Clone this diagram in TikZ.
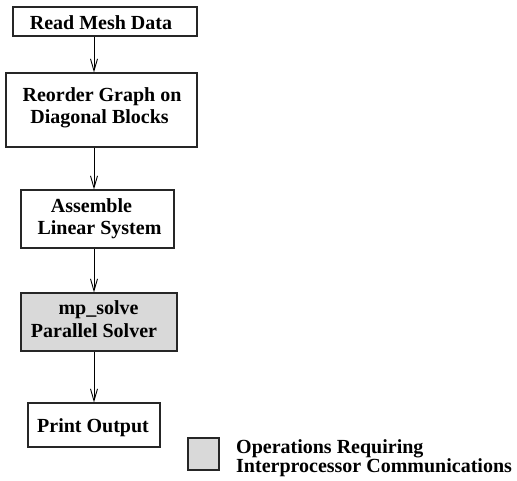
\documentclass[tikz,border=0pt]{standalone}
\usepackage{fontspec}
\setmainfont{Liberation Serif}
\usetikzlibrary{arrows.meta}
\begin{document}
\begin{tikzpicture}[x=1pt,y=-1pt,
  box/.style={draw=black!85,line width=1.1pt,inner sep=0pt,rectangle},
  comm/.style={box,fill=black!15},
  lbl/.style={anchor=base,inner sep=0pt,font=\fontsize{20}{23}\selectfont\bfseries},
  arr/.style={draw=black,line width=0.9pt,-{Straight Barb[length=12pt,width=7pt,line width=0.9pt]}}]
\useasboundingbox (0,0) rectangle (517,481);
% boxes
\node[box,minimum width=184pt,minimum height=29pt] (b1) at (105,21.5) {};
\node[box,minimum width=191pt,minimum height=74pt] (b2) at (101.5,110) {};
\node[box,minimum width=153pt,minimum height=58pt] (b3) at (97.5,219) {};
\node[comm,minimum width=156pt,minimum height=58pt] (b4) at (99,322) {};
\node[box,minimum width=132pt,minimum height=44pt] (b5) at (94,425) {};
\node[comm,minimum width=31pt,minimum height=32pt] (leg) at (203.5,454) {};
% texts
\node[lbl] (t1) at (101,30) {Read Mesh Data};
\node[lbl] (t2a) at (102,102) {Reorder Graph on};
\node[lbl] (t2b) at (99.5,124) {Diagonal Blocks};
\node[lbl] (t3a) at (91.5,213) {Assemble};
\node[lbl] (t3b) at (99.5,235) {Linear System};
\node[lbl] (t4a) at (98.5,315) {mp\_solve};
\node[lbl] (t4b) at (94,337) {Parallel Solver};
\node[lbl] (t5) at (93,432) {Print Output};
\node[lbl,anchor=base west] (l1) at (236,453.5) {Operations Requiring};
\node[lbl,anchor=base west] (l2) at (236,472.5) {Interprocessor Communications};
% arrows
\coordinate (ax) at (94,0);
\draw[arr] (b1.south -| ax) -- (b2.north -| ax);
\draw[arr] (b2.south -| ax) -- (b3.north -| ax);
\draw[arr] (b3.south -| ax) -- (b4.north -| ax);
\draw[arr] (b4.south -| ax) -- (b5.north -| ax);
\end{tikzpicture}
\end{document}
